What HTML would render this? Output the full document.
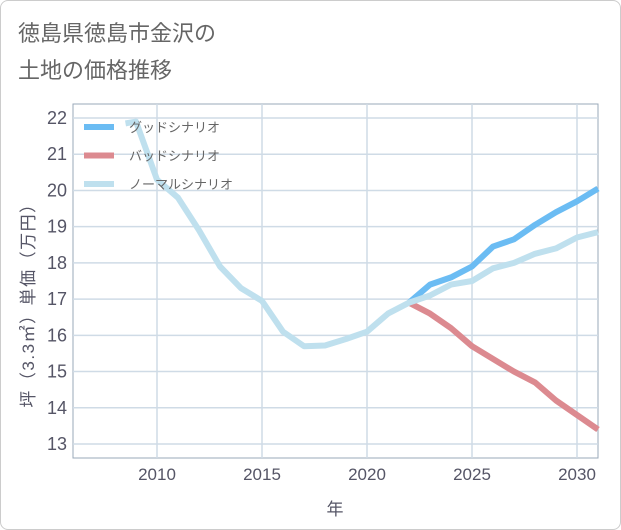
<!DOCTYPE html>
<html><head><meta charset="utf-8">
<style>
body{margin:0;background:#fff;}
#wrap{width:619px;height:528px;border:1px solid #ccc;border-radius:8px;position:relative;overflow:hidden;font-family:"Liberation Sans","Noto Sans CJK JP",sans-serif;}
svg text{font-family:"Liberation Sans","Noto Sans CJK JP",sans-serif;}
</style></head>
<body>
<div id="wrap">
<svg id="chart" width="621" height="530">
<text x="17" y="40" font-size="22" fill="#666">徳島県徳島市金沢の</text>
<text x="17" y="77" font-size="22" fill="#666">土地の価格推移</text>
<g id="grid"></g>
<g id="series"></g>
<g id="legend"></g>
<text x="334" y="514" font-size="17" fill="#556" text-anchor="middle">年</text>
<text transform="translate(33,300) rotate(-90)" font-size="17" fill="#556" letter-spacing="1.5" text-anchor="middle">坪（3.3㎡）単価（万円）</text>
</svg>
</div>
<script>
const xTicks=[2010,2015,2020,2025,2030];
const yTicks=[13,14,15,16,17,18,19,20,21,22];
const normalYears=[2008.5,2009,2010,2011,2012,2013,2014,2015,2016,2017,2018,2019,2020,2021,2022,2023,2024,2025,2026,2027,2028,2029,2030,2031];
const normalVals=[21.85,21.9,20.3,19.8,18.9,17.9,17.3,16.95,16.1,15.7,15.72,15.9,16.1,16.6,16.9,17.1,17.4,17.5,17.85,18.0,18.25,18.4,18.7,18.85];
const scenYears=[2022,2023,2024,2025,2026,2027,2028,2029,2030,2031];
const goodVals=[16.9,17.4,17.6,17.9,18.45,18.65,19.05,19.4,19.7,20.05];
const badVals=[16.9,16.6,16.2,15.7,15.35,15.0,14.7,14.2,13.8,13.4];
const NS='http://www.w3.org/2000/svg';
const L=72,R=597,T=103,B=457;
const x=v=>L+(v-2006)*(R-L)/25;
const y=v=>117+(22-v)*(443-117)/9;
function mk(tag,attrs,parent){const e=document.createElementNS(NS,tag);for(const k in attrs)e.setAttribute(k,attrs[k]);parent.appendChild(e);return e;}
const grid=document.getElementById('grid');
const bg=mk('rect',{x:L,y:T,width:R-L,height:B-T,fill:'#fff',stroke:'#9aa8b8'},grid);


yTicks.forEach(v=>{
 const l=mk('line',{x1:L,x2:R,y1:y(v),y2:y(v),stroke:'#cfdbe6','stroke-width':1.5},grid);
 
 
 const t=mk('text',{x:L-6,y:y(v)+6,'font-size':18,fill:'#556','text-anchor':'end'},grid);
 t.textContent=v;
 
 
});
xTicks.forEach(v=>{
 const l=mk('line',{x1:x(v),x2:x(v),y1:T,y2:B,stroke:'#cfdbe6','stroke-width':1.5},grid);
 
 
 const t=mk('text',{x:x(v),y:B+22,'font-size':17,fill:'#556','text-anchor':'middle'},grid);
 t.textContent=v;
 
 
});
const sg=document.getElementById('series');
function line(xs,vs,color,name){
 const d=xs.map((a,i)=>(i?'L':'M')+x(a).toFixed(1)+','+y(vs[i]).toFixed(1)).join('');
 const p=mk('path',{d:d,fill:'none',stroke:color,'stroke-width':6,'stroke-linejoin':'round'},sg);
 
 
}
line(scenYears,badVals,'#dc8a90','bad-scenario-line');
line(scenYears,goodVals,'#6bbcf3','good-scenario-line');
line(normalYears,normalVals,'#bfe0ee','normal-scenario-line');
const lg=document.getElementById('legend');
[['グッドシナリオ','#6bbcf3','legend-good'],['バッドシナリオ','#dc8a90','legend-bad'],['ノーマルシナリオ','#bfe0ee','legend-normal']].forEach((e,i)=>{
 const yy=126+i*28.5;
 const r=mk('rect',{x:83,y:yy-3,width:30,height:6,fill:e[1]},lg);
 
 
 const t=mk('text',{x:128,y:yy+5,'font-size':13,fill:'#666'},lg);
 t.textContent=e[0];
 
 
});
</script>
</body></html>
